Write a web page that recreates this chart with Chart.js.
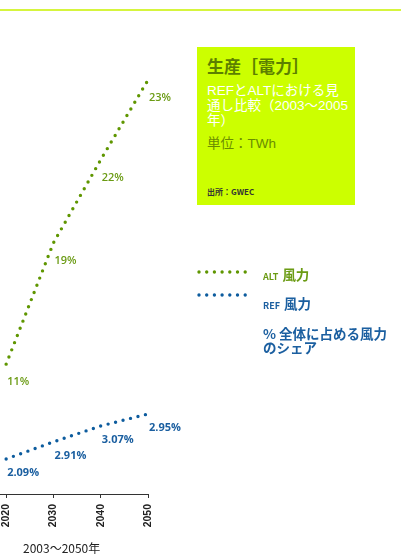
<!DOCTYPE html>
<html lang="ja">
<head>
<meta charset="utf-8">
<title>生産［電力］</title>
<script src="https://cdn.jsdelivr.net/npm/chart.js@4.4.1/dist/chart.umd.min.js"></script>
<style>
  body {
    margin: 0;
    width: 401px;
    height: 555px;
    overflow: hidden;
    position: relative;
    background: #fff;
    font-family: "Noto Sans CJK JP", "Noto Sans", sans-serif;
  }
  .topline { position: absolute; left: 0; top: 9px; width: 401px; height: 2px; background: #d6f53e; }
  #chart { position: absolute; left: 0; top: 0; }

  .info { position: absolute; left: 197px; top: 47px; width: 158px; height: 158px; background: #ccff00; }
  .info div { position: absolute; left: 10px; white-space: nowrap; }
  .info .title { top: 9px; font-size: 17px; line-height: 20px; font-weight: 700; color: #5c7f00; }
  .info .sub { top: 36px; font-family: "Liberation Sans", "Noto Sans CJK JP", sans-serif; font-size: 13.5px; line-height: 15px; font-weight: 400; color: #fff; }
  .info .unit { top: 89px; font-family: "Liberation Sans", "Noto Sans CJK JP", sans-serif; font-size: 13.5px; line-height: 16px; font-weight: 400; color: #6a8c00; }
  .info .src { top: 140px; font-size: 8px; line-height: 10px; font-weight: 700; color: #333; }

  .key { position: absolute; left: 263px; white-space: nowrap; font-weight: 700; }
  .key small { font-size: 9px; margin-right: 4px; }
  .key.alt { top: 265px; font-size: 13.5px; line-height: 18px; color: #6b9b14; }
  .key.ref { top: 294px; font-size: 13.5px; line-height: 18px; color: #1b5fa0; }
  .key.share { top: 326px; font-size: 13.5px; line-height: 14px; color: #1b5fa0; }

  .xtitle { position: absolute; left: 23px; top: 540px; font-size: 12px; line-height: 16px; color: #222; }
</style>
</head>
<body>
<div class="topline"></div>
<canvas id="chart" width="401" height="555"></canvas>

<div class="info">
  <div class="title">生産［電力］</div>
  <div class="sub">REFとALTにおける見<br>通し比較（2003～2005<br>年）</div>
  <div class="unit">単位：TWh</div>
  <div class="src">出所：GWEC</div>
</div>

<div class="key alt"><small>ALT</small>風力</div>
<div class="key ref"><small>REF</small>風力</div>
<div class="key share">% 全体に占める風力<br>のシェア</div>

<div class="xtitle">2003～2050年</div>

<script>
// wind generation, TWh
const years = [2020, 2030, 2040, 2050];
const altWind = [2280, 4410, 5870, 7270];
const refWind = [615, 915, 1195, 1405];

// share of total generation
const altShare = ['11%', '19%', '22%', '23%'];
const refShare = ['2.09%', '2.91%', '3.07%', '2.95%'];

const yearTicks = [2020, 2030, 2040, 2050];

const GREEN = '#5f9600';
const BLUE = '#0d5c9e';

const toPoints = vals => years.map((x, i) => ({ x, y: vals[i] }));

// share labels under each point + dotted legend swatches
const shareLabels = {
  id: 'shareLabels',
  afterDatasetsDraw(chart) {
    const ctx = chart.ctx;
    chart.data.datasets.forEach((ds, i) => {
      const meta = chart.getDatasetMeta(i);
      ctx.save();
      ctx.fillStyle = ds.labelColor;
      ctx.font = ds.labelFont;
      ctx.textBaseline = 'middle';
      ctx.textAlign = 'left';
      meta.data.forEach((pt, j) => {
        ctx.fillText(ds.shares[j], pt.x + 1, pt.y + ds.labelOffset);
      });

      // legend swatch
      ctx.strokeStyle = ds.borderColor;
      ctx.lineWidth = ds.borderWidth;
      ctx.lineCap = 'round';
      ctx.setLineDash(ds.borderDash);
      ctx.beginPath();
      ctx.moveTo(199, ds.keyY);
      ctx.lineTo(247, ds.keyY);
      ctx.stroke();
      ctx.restore();
    });
  }
};

new Chart(document.getElementById('chart'), {
  type: 'line',
  data: {
    datasets: [
      {
        label: 'ALT 風力',
        data: toPoints(altWind),
        borderColor: GREEN,
        borderWidth: 3.4,
        borderDash: [0, 7.7],
        borderCapStyle: 'round',
        pointRadius: 0,
        tension: 0,
        clip: false,
        shares: altShare,
        labelColor: '#6b9b14',
        labelFont: '600 11px "Open Sans"',
        labelOffset: 18,
        keyY: 272
      },
      {
        label: 'REF 風力',
        data: toPoints(refWind),
        borderColor: BLUE,
        borderWidth: 3.4,
        borderDash: [0, 7.7],
        borderCapStyle: 'round',
        pointRadius: 0,
        tension: 0,
        clip: false,
        shares: refShare,
        labelColor: '#1b5fa0',
        labelFont: '700 11px "Open Sans"',
        labelOffset: 14,
        keyY: 295
      }
    ]
  },
  options: {
    responsive: false,
    animation: false,
    layout: { padding: { left: 0, right: 253, top: 10, bottom: 0 } },
    plugins: {
      legend: { display: false },
      tooltip: { enabled: false }
    },
    scales: {
      x: {
        type: 'linear',
        min: 2018.7,
        max: 2050,
        afterBuildTicks: s => { s.ticks = yearTicks.map(v => ({ value: v })); },
        afterFit: s => { s.height = 61; s.paddingLeft = 0; s.paddingRight = 0; },
        grid: { drawOnChartArea: false, drawTicks: true, tickLength: 4, color: '#333' },
        border: { color: '#333', width: 1 },
        ticks: {
          minRotation: 90,
          maxRotation: 90,
          padding: 6,
          color: '#222',
          font: { family: 'Liberation Sans', size: 10.5, weight: 'bold' },
          callback: v => String(v)
        }
      },
      y: { display: false, min: 0, max: 8500 }
    }
  },
  plugins: [shareLabels]
});
</script>
</body>
</html>
